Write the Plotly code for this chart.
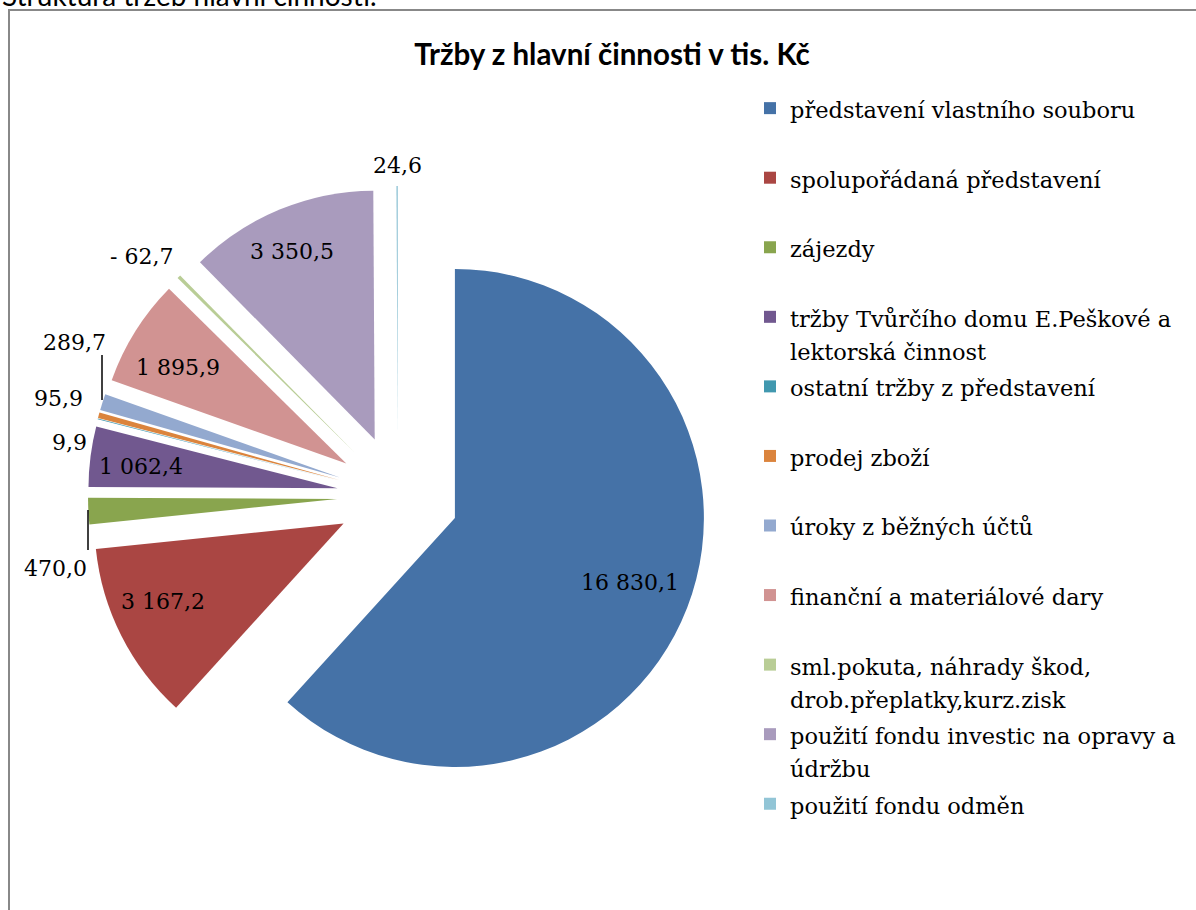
import textwrap
import plotly.graph_objects as go

# ---------------- data ----------------
categories = [
    "představení vlastního souboru",
    "spolupořádaná představení",
    "zájezdy",
    "tržby Tvůrčího domu E.Peškové a lektorská činnost",
    "ostatní tržby z představení",
    "prodej zboží",
    "úroky z běžných účtů",
    "finanční a materiálové dary",
    "sml.pokuta, náhrady škod, drob.přeplatky,kurz.zisk",
    "použití fondu investic na opravy a údržbu",
    "použití fondu odměn",
]
values = [16830.1, 3167.2, 470.0, 1062.4, 9.9, 95.9, 289.7, 1895.9, -62.7, 3350.5, 24.6]
colors = ["#4572A7", "#AA4643", "#89A54E", "#71588F", "#4198AF", "#DB843D",
          "#93A9CF", "#D19392", "#B9CD96", "#A99BBD", "#92C5D6"]

chart_title = "Tržby z hlavní činnosti v tis. Kč"
page_heading = "Struktura tržeb hlavní činnosti."

W, H = 1196, 910


def px(x):
    return x / W


def py(y):
    return 1 - y / H


def fmt(v):
    s = f"{abs(v):,.1f}".replace(",", " ").replace(".", ",")
    return ("- " + s) if v < 0 else s


value_text = [fmt(v) for v in values]

LEG_TEXT = 22.5


def legend_label(name):
    lines = [f'<span style="font-size:{LEG_TEXT}px">{l}</span>' for l in textwrap.wrap(name, 34)]
    while len(lines) < 2:
        lines.append(" ")
    return "<br>".join(lines)


legend_labels = [legend_label(c) for c in categories]

fig = go.Figure(go.Pie(
    labels=legend_labels,
    values=[abs(v) for v in values],
    sort=False,
    direction="clockwise",
    rotation=0,
    marker=dict(colors=colors, line=dict(width=0)),
    pull=[0.245] * len(values),
    textinfo="none",
    domain=dict(x=[px(88), px(708)], y=[py(806), py(186)]),
    hovertext=[f"{c}: {t}" for c, t in zip(categories, value_text)],
    hoverinfo="text",
))

# value label positions (label placement only, values come from `values`)
label_pos = [(630, 582), (163, 601), (56, 568), (141, 467), (69, 442), (58, 398),
             (74, 342), (178, 367), (141, 256), (292, 251), (397, 165)]
annotations = []
for txt, (x, y) in zip(value_text, label_pos):
    annotations.append(dict(
        x=px(x), y=py(y), xref="paper", yref="paper", text=txt,
        showarrow=False, xanchor="center", yanchor="middle",
        font=dict(family="DejaVu Serif", size=22, color="black"),
    ))

annotations.append(dict(
    x=0, y=py(-5), xref="paper", yref="paper", text=page_heading,
    showarrow=False, xanchor="left", yanchor="middle",
    font=dict(family="Lato", size=28, color="black"),
))

shapes = [
    dict(type="rect", xref="paper", yref="paper", x0=px(9), y0=py(10), x1=1.02, y1=-0.02,
         line=dict(color="#888888", width=2), fillcolor="rgba(0,0,0,0)"),
    dict(type="line", xref="paper", yref="paper", x0=px(102), y0=py(355), x1=px(102), y1=py(400),
         line=dict(color="black", width=1.5)),
    dict(type="line", xref="paper", yref="paper", x0=px(88), y0=py(510), x1=px(88), y1=py(550),
         line=dict(color="black", width=1.5)),
]

fig.update_layout(
    width=W, height=H,
    margin=dict(l=0, r=0, t=0, b=0),
    paper_bgcolor="white",
    plot_bgcolor="white",
    title=dict(text=f"<b>{chart_title}</b>", x=px(612), xanchor="center",
               y=1 - 55 / H, yanchor="middle", yref="container",
               font=dict(family="Lato", size=29.5, color="black")),
    showlegend=True,
    legend=dict(x=px(750), y=py(85), xanchor="left", yanchor="top", valign="top",
                font=dict(family="DejaVu Serif", size=25.6, color="black"),
                bgcolor="rgba(0,0,0,0)", itemclick=False, itemdoubleclick=False),
    annotations=annotations,
    shapes=shapes,
)

fig.write_html(
    "out.html",
    config={"displayModeBar": False},
    post_script="document.body.style.margin='0';document.body.style.overflow='hidden';",
)
